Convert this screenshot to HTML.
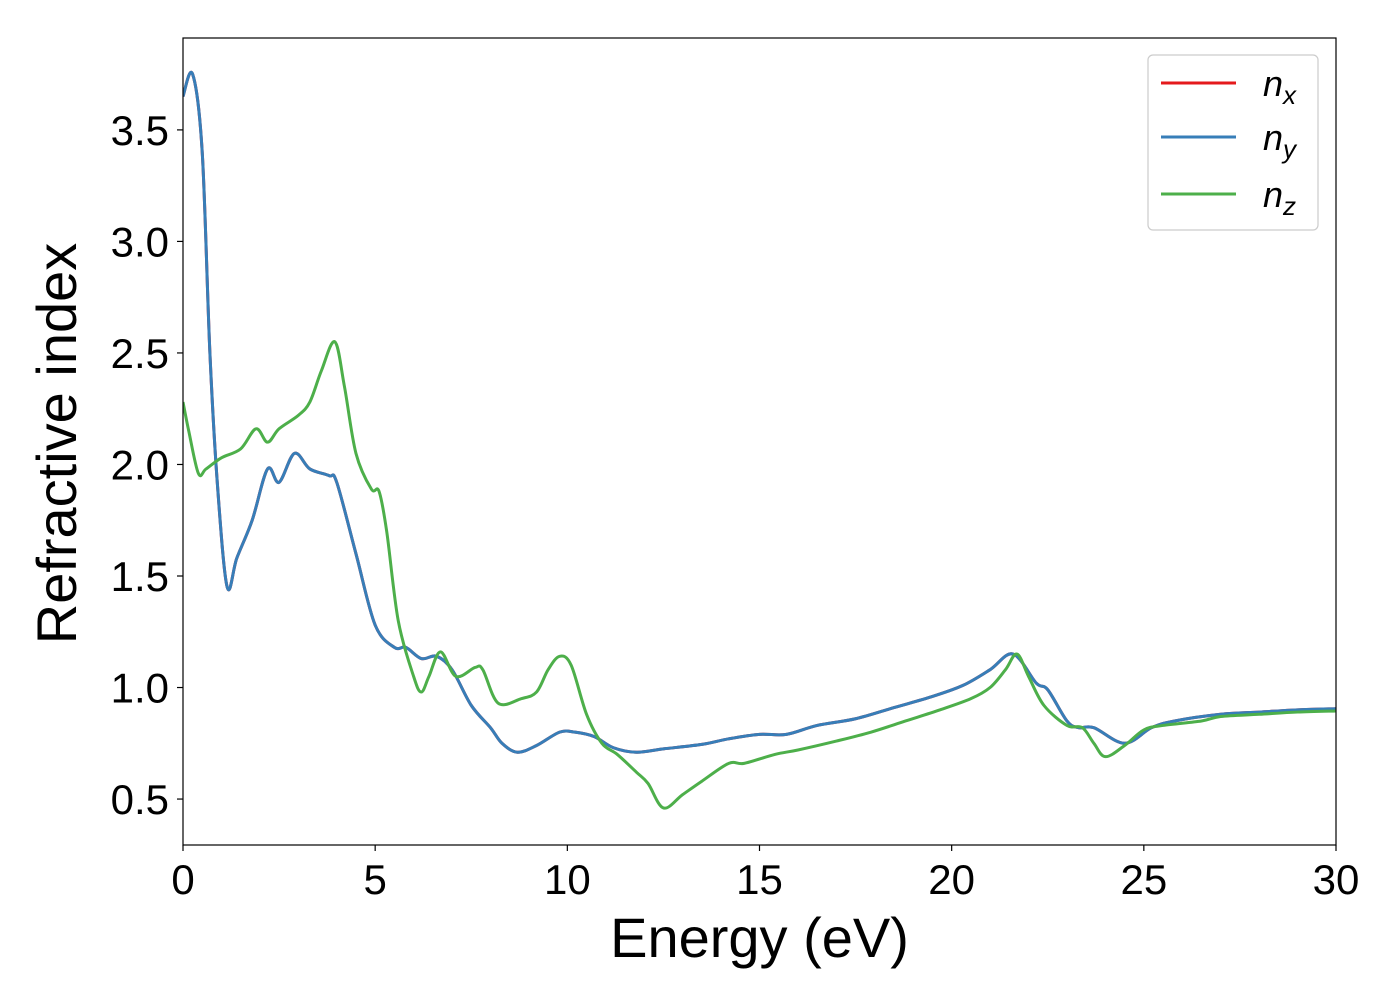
<!DOCTYPE html>
<html><head><meta charset="utf-8"><style>
body{margin:0;background:#fff;}
svg{display:block;font-family:"Liberation Sans","DejaVu Sans",sans-serif;}
</style></head><body>
<svg id="chart" width="1400" height="1000" xmlns="http://www.w3.org/2000/svg">
<g id="plot"></g>
</svg>
<script>
const xTicks=[0,5,10,15,20,25,30];
const yTicks=[0.5,1.0,1.5,2.0,2.5,3.0,3.5];
const yTickLabels=["0.5","1.0","1.5","2.0","2.5","3.0","3.5"];
const energyXY=[0,0.25,0.5,0.7,0.9,1.15,1.4,1.8,2.2,2.5,2.9,3.3,3.8,4.0,4.5,5.0,5.5,5.8,6.2,6.6,7.0,7.5,8.0,8.3,8.7,9.2,9.8,10.2,10.7,11.2,11.8,12.5,13.5,14.2,15,15.7,16.5,17.5,18.5,19.5,20.3,21,21.6,22.2,22.5,23,23.3,23.7,24.5,25.2,25.8,27,28,29,30];
const nx=[3.65,3.75,3.4,2.5,1.9,1.45,1.58,1.75,1.98,1.92,2.05,1.98,1.95,1.92,1.6,1.28,1.18,1.18,1.13,1.14,1.08,0.92,0.82,0.75,0.71,0.74,0.80,0.80,0.78,0.73,0.71,0.725,0.745,0.77,0.79,0.79,0.83,0.86,0.91,0.96,1.01,1.08,1.15,1.02,0.99,0.85,0.82,0.82,0.75,0.82,0.85,0.88,0.89,0.9,0.905];
const ny=nx.slice();
const energyZ=[0,0.15,0.4,0.6,1,1.5,1.9,2.2,2.5,3.0,3.3,3.6,3.95,4.2,4.5,4.9,5.1,5.3,5.6,6.0,6.2,6.4,6.7,7.1,7.6,7.8,8.2,8.8,9.2,9.5,9.8,10.1,10.5,10.9,11.3,11.8,12.1,12.5,13,13.5,14.2,14.6,15.4,16,17,17.9,18.8,19.7,20.5,21,21.4,21.7,22,22.4,23,23.4,23.7,24,24.5,25,25.5,26.5,27,28,29,30];
const nz=[2.28,2.15,1.96,1.98,2.03,2.07,2.16,2.10,2.16,2.22,2.28,2.42,2.55,2.35,2.05,1.89,1.88,1.7,1.3,1.05,0.98,1.05,1.16,1.05,1.09,1.08,0.93,0.95,0.98,1.08,1.14,1.10,0.88,0.75,0.70,0.62,0.57,0.46,0.52,0.58,0.66,0.66,0.70,0.72,0.76,0.80,0.85,0.90,0.95,1.0,1.08,1.15,1.05,0.92,0.83,0.82,0.75,0.69,0.74,0.81,0.83,0.85,0.87,0.88,0.89,0.895];

const L=183,R=1336,T=38,B=845,xMin=0,xMax=30,yMin=0.294,yMax=3.912;
const sx=v=>L+(v-xMin)/(xMax-xMin)*(R-L);
const sy=v=>B-(v-yMin)/(yMax-yMin)*(B-T);
const NS="http://www.w3.org/2000/svg";
const svg=document.getElementById('chart');
function mk(tag,attrs,parent){const e=document.createElementNS(NS,tag);for(const k in attrs)e.setAttribute(k,attrs[k]);(parent||svg).appendChild(e);return e;}
function curve(xs,ys){
  const p=xs.map((x,i)=>[sx(x),sy(ys[i])]);
  let d=`M${p[0][0]},${p[0][1]}`;
  for(let i=0;i<p.length-1;i++){
    const p0=p[Math.max(0,i-1)],p1=p[i],p2=p[i+1],p3=p[Math.min(p.length-1,i+2)];
    const c1=[p1[0]+(p2[0]-p0[0])/6,p1[1]+(p2[1]-p0[1])/6];
    const c2=[p2[0]-(p3[0]-p1[0])/6,p2[1]-(p3[1]-p1[1])/6];
    d+=` C${c1[0]},${c1[1]} ${c2[0]},${c2[1]} ${p2[0]},${p2[1]}`;
  }
  return d;
}
const plot=document.getElementById('plot');
const clip=mk('clipPath',{id:'clp'});mk('rect',{x:L,y:T,width:R-L,height:B-T},clip);
const lines=mk('g',{'clip-path':'url(#clp)'},plot);


const lx=mk('path',{d:curve(energyXY,nx),fill:'none',stroke:'#e41a1c','stroke-width':3},lines);


const ly=mk('path',{d:curve(energyXY,ny),fill:'none',stroke:'#377eb8','stroke-width':3},lines);


const lz=mk('path',{d:curve(energyZ,nz),fill:'none',stroke:'#4daf4a','stroke-width':3},lines);


const frame=mk('rect',{x:L,y:T,width:R-L,height:B-T,fill:'none',stroke:'#000','stroke-width':1.2});


xTicks.forEach(v=>{
  const t=mk('line',{x1:sx(v),x2:sx(v),y1:B,y2:B+6,stroke:'#000','stroke-width':1.2});
  
  
  const tx=mk('text',{x:sx(v),y:B+49,'text-anchor':'middle','font-size':42,fill:'#000'});
  tx.textContent=String(v);
  
  
});
yTicks.forEach((v,i)=>{
  const t=mk('line',{x1:L-6,x2:L,y1:sy(v),y2:sy(v),stroke:'#000','stroke-width':1.2});
  
  
  const tx=mk('text',{x:L-14,y:sy(v)+15,'text-anchor':'end','font-size':42,fill:'#000'});
  tx.textContent=yTickLabels[i];
  
  
});
const xt=mk('text',{x:(L+R)/2,y:957,'text-anchor':'middle','font-size':56,fill:'#000'});
xt.textContent='Energy (eV)';


const yt=mk('text',{x:0,y:0,'text-anchor':'middle','font-size':56,fill:'#000',transform:`translate(76,${(T+B)/2+2}) rotate(-90)`});
yt.textContent='Refractive index';


const leg=mk('g',{});


mk('rect',{x:1148,y:55,width:170,height:175,rx:5,fill:'#fff',stroke:'#ccc','stroke-width':1.2},leg);
const names=[['x','#e41a1c',83],['y','#377eb8',137],['z','#4daf4a',194]];
names.forEach(n=>{
  const g=mk('g',{},leg);
  
  
  mk('line',{x1:1161,x2:1236,y1:n[2],y2:n[2],stroke:n[1],'stroke-width':3},g);
  const t=mk('text',{x:1263,y:n[2]+13,'font-size':36,'font-style':'italic',fill:'#000'},g);
  t.textContent='n';
  const s=mk('tspan',{'font-size':26,dy:8},t);
  s.textContent=n[0];
});
</script>
</body></html>
